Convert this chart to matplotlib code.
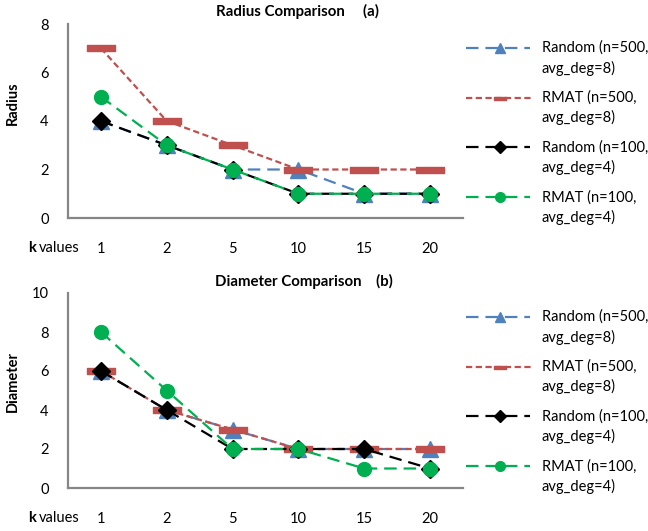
import matplotlib
matplotlib.use("Agg")
import matplotlib.pyplot as plt
import numpy as np
from matplotlib.lines import Line2D
from matplotlib.path import Path

plt.rcParams["font.family"] = ["Lato", "DejaVu Sans"]
plt.rcParams["lines.scale_dashes"] = False

K_LABELS = ["1", "2", "5", "10", "15", "20"]
SERIES_NAMES = [
    "Random (n=500,\navg_deg=8)",
    "RMAT (n=500,\navg_deg=8)",
    "Random (n=100,\navg_deg=4)",
    "RMAT (n=100,\navg_deg=4)",
]

radius_random500 = [4, 3, 2, 2, 1, 1]
radius_rmat500 = [7, 4, 3, 2, 2, 2]
radius_random100 = [4, 3, 2, 1, 1, 1]
radius_rmat100 = [5, 3, 2, 1, 1, 1]

diam_random500 = [6, 4, 3, 2, 2, 2]
diam_rmat500 = [6, 4, 3, 2, 2, 2]
diam_random100 = [6, 4, 2, 2, 2, 1]
diam_rmat100 = [8, 5, 2, 2, 1, 1]

W, H = 648, 531
DASH_MARK = Path([(-1, -0.24), (1, -0.24), (1, 0.24), (-1, 0.24), (-1, -0.24)],
                 [Path.MOVETO, Path.LINETO, Path.LINETO, Path.LINETO, Path.CLOSEPOLY])

STYLES = [
    dict(color="#4F81BD", marker="^", ms=11, dashes=(9, 5)),
    dict(color="#C0504D", marker=DASH_MARK, ms=20, dashes=(4.5, 2.5)),
    dict(color="#000000", marker="D", ms=9, dashes=(9, 5)),
    dict(color="#00B050", marker="o", ms=10, dashes=(9, 5)),
]
LEGEND_MS = [7, 9, 6, 7]


def fx(px):
    return px / W


def fy(py):
    return 1 - py / H


def draw_panel(fig, top, bottom, series, ymax, ystep, title, title_x, title_y, ylabel, ylabel_y):
    ax = fig.add_axes([fx(68), fy(bottom), fx(463) - fx(68), fy(top) - fy(bottom)])
    x = np.arange(len(K_LABELS)) + 0.5
    for vals, st in zip(series, STYLES):
        ax.plot(x, vals, color=st["color"], lw=1.6, dashes=st["dashes"],
                marker=st["marker"], ms=st["ms"], mec=st["color"], mfc=st["color"])
    ax.set_xlim(0, len(K_LABELS))
    ax.set_ylim(0, ymax)
    ax.set_yticks(np.arange(0, ymax + 1, ystep))
    ax.set_xticks(x)
    ax.set_xticklabels(K_LABELS)
    ax.tick_params(axis="both", length=0, labelsize=10.5, colors="#000000")
    ax.tick_params(axis="x", pad=17)
    ax.tick_params(axis="y", pad=14)
    for s in ("top", "right"):
        ax.spines[s].set_visible(False)
    for s in ("left", "bottom"):
        ax.spines[s].set_color("#868686")
        ax.spines[s].set_linewidth(1.6)
    for ln in ax.lines:
        ln.set_clip_on(False)

    fig.text(fx(title_x), fy(title_y), title, ha="center", va="center",
             fontsize=10.8, fontweight="bold")
    fig.text(fx(13), fy(ylabel_y), ylabel, ha="center", va="center",
             rotation=90, fontsize=10.5, fontweight="bold")
    klab_y = bottom + 30
    fig.text(fx(28), fy(klab_y), "k", ha="left", va="center", fontsize=10.5, fontweight="bold")
    fig.text(fx(39), fy(klab_y), "values", ha="left", va="center", fontsize=10.5)
    return ax


def draw_legend(fig, first_y):
    for i, (name, st) in enumerate(zip(SERIES_NAMES, STYLES)):
        y = first_y + i * 49.7
        x_end = 534 if i == 1 else 530
        fig.add_artist(Line2D([fx(466), fx(x_end)], [fy(y), fy(y)], transform=fig.transFigure,
                              color=st["color"], lw=1.6, dashes=st["dashes"]))
        fig.add_artist(Line2D([fx(500)], [fy(y)], transform=fig.transFigure, color=st["color"],
                              marker=st["marker"], ms=LEGEND_MS[i],
                              mec=st["color"], mfc=st["color"], lw=0))
        fig.text(fx(542), fy(y) + 0.0135, name, ha="left", va="top", fontsize=10.5,
                 linespacing=1.45)


fig = plt.figure(figsize=(6.48, 5.31), dpi=100)

draw_panel(fig, 24, 218, [radius_random500, radius_rmat500, radius_random100, radius_rmat100],
           8, 2, "Radius Comparison     (a)", 297, 11, "Radius", 103)
draw_panel(fig, 293, 488, [diam_random500, diam_rmat500, diam_random100, diam_rmat100],
           10, 2, "Diameter Comparison    (b)", 304, 281, "Diameter", 382)

draw_legend(fig, 48)
draw_legend(fig, 317)

fig.savefig("out.png", dpi=100)
